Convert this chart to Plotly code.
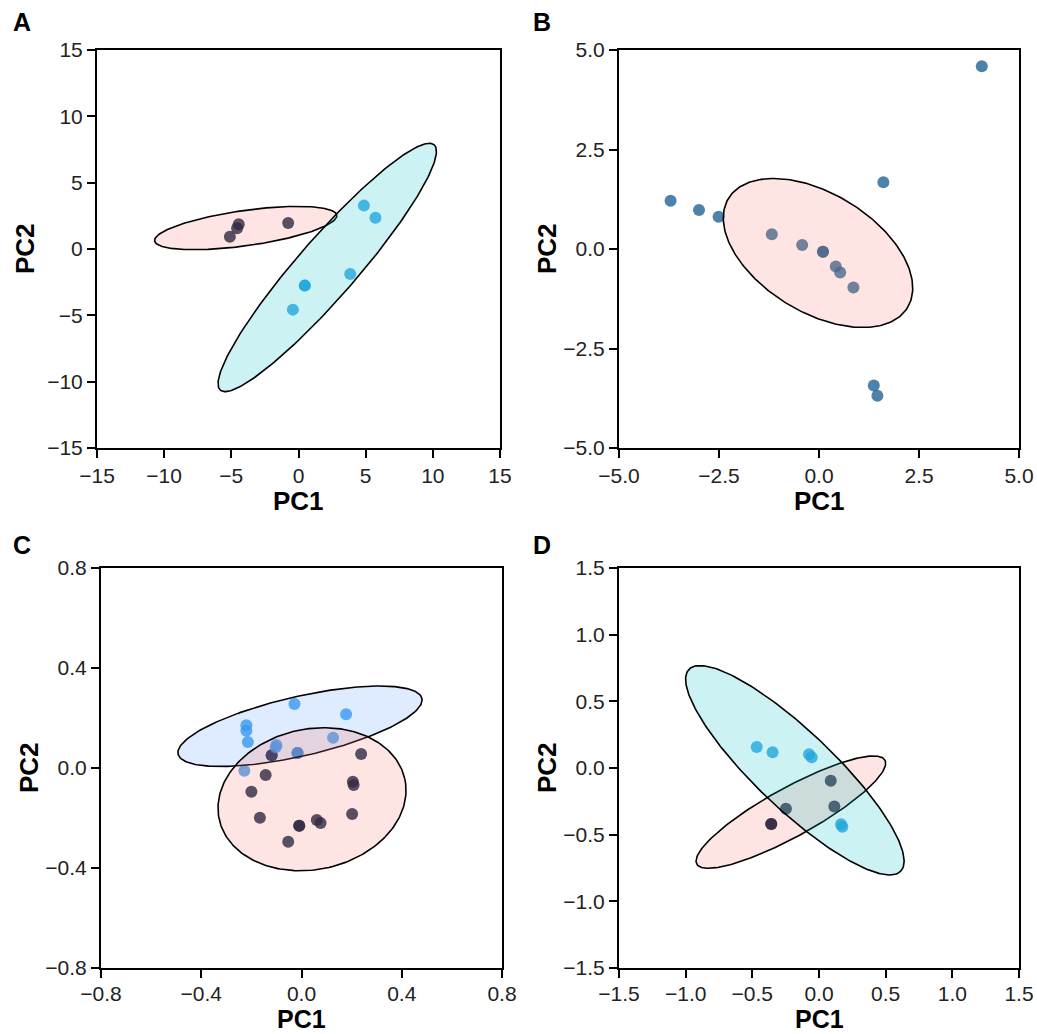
import numpy as np
import plotly.graph_objects as go

# ---------------- data ----------------
# Panel A
a_dark_x = [-4.45, -4.57, -5.11, -0.77]
a_dark_y = [1.86, 1.56, 0.93, 1.96]
a_blue_x = [4.87, 5.73, 3.85, 0.47, 0.47, -0.42]
a_blue_y = [3.27, 2.36, -1.88, -2.76, -2.76, -4.57]

# Panel B
b_x = [4.07, 1.61, -3.71, -3.00, -2.51, -1.18, -0.42, 0.10, 0.10, 0.42, 0.53, 0.86, 1.37, 1.46]
b_y = [4.59, 1.68, 1.21, 0.98, 0.81, 0.37, 0.10, -0.07, -0.07, -0.44, -0.59, -0.97, -3.43, -3.69]

# Panel C
c_blue_x = [-0.028, 0.178, -0.220, -0.220, -0.214, -0.100, 0.126, -0.228, -0.103, -0.016]
c_blue_y = [0.256, 0.215, 0.171, 0.149, 0.104, 0.092, 0.121, -0.011, 0.083, 0.060]
c_dark_x = [-0.119, -0.119, 0.238, -0.143, -0.200, 0.205, 0.208, 0.202, -0.166,
            -0.009, -0.009, 0.061, 0.076, -0.053, -0.016]
c_dark_y = [0.051, 0.051, 0.056, -0.028, -0.095, -0.055, -0.068, -0.184, -0.199,
            -0.231, -0.231, -0.208, -0.220, -0.295, 0.060]

# Panel D
d_blue_x = [-0.467, -0.348, -0.075, -0.055, 0.165, 0.175]
d_blue_y = [0.158, 0.118, 0.103, 0.080, -0.422, -0.440]
d_dark_x = [0.088, -0.248, 0.115, -0.358, -0.358]
d_dark_y = [-0.095, -0.305, -0.288, -0.420, -0.420]

# Ellipses: centre x, centre y, semi-major, semi-minor, angle (deg)
ell_a_pink = [-3.93, 1.58, 6.85, 1.33, 8.1]
ell_a_cyan = [2.14, -1.39, 12.2, 2.2, 49.3]
ell_b_pink = [-0.025, -0.10, 2.625, 1.49, -31.6]
ell_c_blue = [-0.006, 0.167, 0.499, 0.119, 12.9]
ell_c_pink = [0.042, -0.125, 0.379, 0.281, 12.3]
ell_d_cyan = [-0.181, -0.017, 1.097, 0.291, -43.6]
ell_d_pink = [-0.211, -0.331, 0.806, 0.183, 28.9]

# Axis ticks
a_ticks = [-15, -10, -5, 0, 5, 10, 15]
b_ticks = [-5.0, -2.5, 0.0, 2.5, 5.0]
c_ticks = [-0.8, -0.4, 0.0, 0.4, 0.8]
d_ticks = [-1.5, -1.0, -0.5, 0.0, 0.5, 1.0, 1.5]

# ---------------- styles ----------------
DARK = "rgba(0,21,55,0.8)"
BLUE = "rgba(44,161,227,0.8)"
CBLUE = "rgba(46,152,239,0.8)"
STEEL = "rgba(35,99,146,0.8)"
PINK_F = "rgba(248,118,109,0.2)"
CYAN_F = "rgba(0,191,196,0.2)"
BLUE_F = "rgba(97,156,255,0.2)"
FONT = "Arial, Liberation Sans, sans-serif"

W, H = 1037, 1034
fig = go.Figure()

panels = {
    # name: (xaxis id, yaxis id, px x0, px x1, px ytop, px ybottom)
    "A": ("x", "y", 97, 500, 50, 448),
    "B": ("x2", "y2", 619, 1019, 50, 448),
    "C": ("x3", "y3", 101, 502, 568, 968),
    "D": ("x4", "y4", 619, 1019, 568, 968),
}


def ellipse(p, n=240):
    cx, cy, a, b, ang = p
    t = np.linspace(0, 2 * np.pi, n)
    th = np.deg2rad(ang)
    x = cx + a * np.cos(t) * np.cos(th) - b * np.sin(t) * np.sin(th)
    y = cy + a * np.cos(t) * np.sin(th) + b * np.sin(t) * np.cos(th)
    return x, y


def pts(x, y, color, ax):
    fig.add_trace(go.Scatter(x=x, y=y, mode="markers", xaxis=ax[0], yaxis=ax[1],
                             marker=dict(size=12, color=color, line=dict(width=0)),
                             showlegend=False, hoverinfo="skip"))


def ell(p, fill, ax):
    x, y = ellipse(p)
    fig.add_trace(go.Scatter(x=x, y=y, mode="lines", fill="toself", fillcolor=fill,
                             line=dict(color="black", width=1.6), xaxis=ax[0], yaxis=ax[1],
                             showlegend=False, hoverinfo="skip"))


axA = ("x", "y"); axB = ("x2", "y2"); axC = ("x3", "y3"); axD = ("x4", "y4")

pts(a_dark_x, a_dark_y, DARK, axA)
pts(a_blue_x, a_blue_y, BLUE, axA)
ell(ell_a_pink, PINK_F, axA)
ell(ell_a_cyan, CYAN_F, axA)

pts(b_x, b_y, STEEL, axB)
ell(ell_b_pink, PINK_F, axB)

pts(c_dark_x, c_dark_y, DARK, axC)
pts(c_blue_x, c_blue_y, CBLUE, axC)
ell(ell_c_blue, BLUE_F, axC)
ell(ell_c_pink, PINK_F, axC)

pts(d_dark_x, d_dark_y, DARK, axD)
pts(d_blue_x, d_blue_y, BLUE, axD)
ell(ell_d_pink, PINK_F, axD)
ell(ell_d_cyan, CYAN_F, axD)

ticks = {"A": (a_ticks, "d"), "B": (b_ticks, ".1f"), "C": (c_ticks, ".1f"), "D": (d_ticks, ".1f")}

layout = {}
for name, (xa, ya, x0, x1, yt, yb) in panels.items():
    tv, fmt = ticks[name]
    common = dict(showline=True, mirror=True, linecolor="black", linewidth=2,
                  ticks="outside", ticklen=8, tickwidth=1.5, tickcolor="black",
                  showgrid=False, zeroline=False, tickvals=tv, tickformat=fmt,
                  tickfont=dict(family=FONT, size=21, color="#222"),
                  range=[tv[0], tv[-1]], fixedrange=True, automargin=False)
    xkey = "xaxis" + xa[1:]
    ykey = "yaxis" + ya[1:]
    xstand = -2 if yb > 500 else 0
    layout[xkey] = dict(common, domain=[x0 / W, x1 / W], anchor=ya, ticklabelstandoff=xstand)
    layout[ykey] = dict(common, domain=[1 - yb / H, 1 - yt / H], anchor=xa)

fig.update_layout(**layout)

annots = []
letters = [("A", 22, 22), ("B", 542, 22), ("C", 22, 545), ("D", 542, 545)]
for t, x, y in letters:
    annots.append(dict(text="<b>%s</b>" % t, x=x / W, y=1 - y / H, xref="paper", yref="paper",
                       showarrow=False, font=dict(family=FONT, size=25, color="black"),
                       xanchor="center", yanchor="middle"))
for name, (xa, ya, x0, x1, yt, yb) in panels.items():
    off = 53 if yb < 500 else 51
    annots.append(dict(text="<b>PC1</b>", x=(x0 + x1) / 2 / W, y=1 - (yb + off) / H,
                       xref="paper", yref="paper", showarrow=False,
                       font=dict(family=FONT, size=26 if yb < 500 else 25, color="black"),
                       xanchor="center", yanchor="middle"))
    annots.append(dict(text="<b>PC2</b>", x=(x0 - 72) / W, y=1 - (yt + yb) / 2 / H,
                       xref="paper", yref="paper", showarrow=False, textangle=-90,
                       font=dict(family=FONT, size=26, color="black"),
                       xanchor="center", yanchor="middle"))

fig.update_layout(width=W, height=H, margin=dict(l=0, r=0, t=0, b=0),
                  paper_bgcolor="white", plot_bgcolor="white", annotations=annots,
                  showlegend=False)

fig.write_html("out.html")
